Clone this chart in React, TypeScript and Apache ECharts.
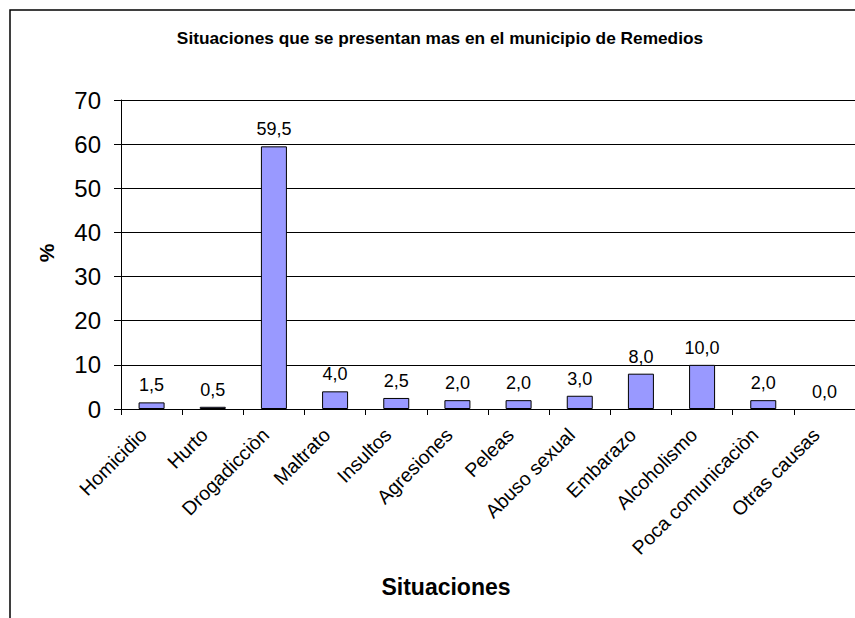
import React, { useEffect, useRef } from "react";
import * as echarts from "echarts";

const categories = [
  "Homicidio",
  "Hurto",
  "Drogadicciòn",
  "Maltrato",
  "Insultos",
  "Agresiones",
  "Peleas",
  "Abuso sexual",
  "Embarazo",
  "Alcoholismo",
  "Poca comunicaciòn",
  "Otras causas",
];
const values = [1.5, 0.5, 59.5, 4.0, 2.5, 2.0, 2.0, 3.0, 8.0, 10.0, 2.0, 0.0];
const titleText = "Situaciones que se presentan mas en el municipio de Remedios";
const yName = "%";
const xName = "Situaciones";

const FONT = "Arial, 'Liberation Sans', sans-serif";

export default function App() {
  const ref = useRef<HTMLDivElement>(null);
  useEffect(() => {
    if (!ref.current) return;
    const chart = echarts.init(ref.current, undefined, { renderer: "svg" });
    chart.setOption({
      animation: false,
      backgroundColor: "#ffffff",
      grid: { left: 121, right: -1, top: 100, bottom: 209, containLabel: false },
      xAxis: {
        type: "category",
        data: categories,
        axisLine: { show: true, lineStyle: { color: "#000", width: 1 } },
        axisTick: { show: true, alignWithLabel: false, length: 6, lineStyle: { color: "#000" } },
        axisLabel: {
          rotate: 45,
          interval: 0,
          margin: 14,
          color: "#000",
          fontFamily: FONT,
          fontSize: 19.5,
          padding: [0, 12, 0, 0],
        },
        splitLine: { show: false },
      },
      yAxis: {
        type: "value",
        min: 0,
        max: 70,
        interval: 10,
        axisLine: { show: true, lineStyle: { color: "#000", width: 1 } },
        axisTick: { show: true, length: 7, lineStyle: { color: "#000" } },
        axisLabel: { color: "#000", fontFamily: FONT, fontSize: 24, margin: 20 },
        splitLine: { show: true, lineStyle: { color: "#000", width: 1 } },
      },
      series: [
        {
          type: "bar",
          data: values.map((v) => ({
            value: v,
            itemStyle: v === 0 ? { borderWidth: 0 } : undefined,
          })),
          barWidth: 26,
          itemStyle: { color: "#9999FF", borderColor: "#000", borderWidth: 1 },
          label: {
            show: true,
            position: "top",
            distance: 8,
            color: "#000",
            fontFamily: FONT,
            fontSize: 18,
            formatter: (p: any) => Number(p.value).toFixed(1).replace(".", ","),
          },
        },
      ],
      graphic: [
        {
          type: "rect",
          shape: { x: 10, y: 10, width: 900, height: 700 },
          style: { fill: "none", stroke: "#000", lineWidth: 1.5 },
          silent: true,
        },
        {
          type: "text",
          x: 440,
          y: 38,
          style: {
            text: titleText,
            fill: "#000",
            font: `bold 17.3px ${FONT}`,
            textAlign: "center",
            textVerticalAlign: "middle",
          },
        },
        {
          type: "text",
          x: 46,
          y: 253,
          rotation: Math.PI / 2,
          style: {
            text: yName,
            fill: "#000",
            font: `bold 21px ${FONT}`,
            textAlign: "center",
            textVerticalAlign: "middle",
          },
        },
        {
          type: "text",
          x: 446,
          y: 587,
          style: {
            text: xName,
            fill: "#000",
            font: `bold 23px ${FONT}`,
            textAlign: "center",
            textVerticalAlign: "middle",
          },
        },
      ],
    });
    return () => chart.dispose();
  }, []);
  return (
    <div
      ref={ref}
      style={{ position: "fixed", left: 0, top: 0, width: 855, height: 618 }}
    />
  );
}
